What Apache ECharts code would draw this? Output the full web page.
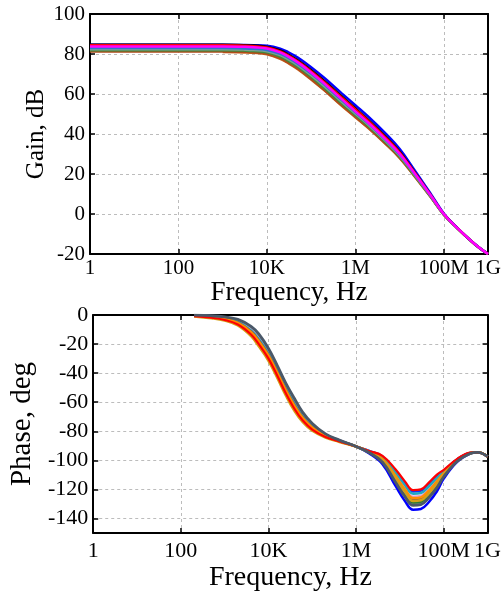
<!DOCTYPE html>
<html>
<head>
<meta charset="utf-8">
<script src="https://cdn.jsdelivr.net/npm/echarts@6/dist/echarts.min.js"></script>
<style>
  html, body { margin: 0; padding: 0; background: #fff; }
  #chart { width: 504px; height: 596px; }
</style>
</head>
<body>
<div id="chart"></div>
<script>
// frequency ticks shared by both plots
const freqTickValues = [1, 100, 1e4, 1e6, 1e8, 1e9];
const freqTickLabels = ['1', '100', '10K', '1M', '100M', '1G'];

// gain plot (dB), one array per Monte Carlo run
const gainFreq = [1, 10, 100, 1e3, 3e3, 5e3, 1e4, 2e4, 3e4, 5e4, 1e5, 2e5, 5e5, 1e6, 2e6, 5e6, 1e7, 2e7, 5e7, 1e8, 2e8, 5e8, 1e9];
const gainBrown = [null, null, null, 81.0, 80.8, 80.6, 79.8, 77.6, 75.5, 72.4, 67.3, 61.8, 54.0, 48.4, 42.8, 34.7, 28.1, 19.9, 8.6, -0.3, -7.0, -15.1, -20];
const gainSienna = [81.3, 81.3, 81.3, 81.3, 81.1, 80.9, 80.1, 77.9, 75.8, 72.7, 67.6, 62.0, 54.3, 48.7, 43.1, 35.0, 28.3, 20.1, 8.7, -0.3, -7.0, -15.1, -20];
const gainGreen = [81.9, 81.9, 81.9, 81.9, 81.7, 81.5, 80.8, 78.7, 76.7, 73.6, 68.6, 63.0, 55.2, 49.5, 43.8, 35.6, 28.8, 20.4, 8.9, -0.2, -7.0, -15.0, -20];
const gainGrayGreen = [82.4, 82.4, 82.4, 82.4, 82.2, 82.0, 81.4, 79.4, 77.4, 74.4, 69.4, 63.9, 56.0, 50.2, 44.5, 36.2, 29.3, 20.8, 9.1, -0.2, -7.0, -15.0, -20];
const gainRoyal = [83.0, 83.0, 83.0, 83.0, 82.8, 82.6, 82.0, 80.1, 78.2, 75.2, 70.2, 64.7, 56.8, 51.0, 45.2, 36.8, 29.8, 21.2, 9.3, -0.1, -6.9, -15.0, -20];
const gainBlue = [84.6, 84.6, 84.6, 84.6, 84.5, 84.4, 84.1, 82.7, 81.0, 78.2, 73.4, 68.0, 60.2, 54.4, 48.5, 39.9, 32.6, 23.2, 10.3, 0.3, -6.8, -15.0, -20];
const gainBlack = [84.8, 84.8, 84.8, 84.8, 84.6, 84.4, 83.7, 81.9, 80.0, 77.0, 72.1, 66.6, 58.9, 53.0, 47.1, 38.6, 31.5, 22.4, 9.9, 0.1, -6.9, -15.0, -20];
const gainRed = [84.4, 84.4, 84.4, 84.4, 84.2, 84.0, 83.3, 81.3, 79.4, 76.4, 71.5, 66.0, 58.2, 52.4, 46.5, 38.0, 30.9, 22.0, 9.7, 0, -6.9, -15.0, -20];
const gainMagenta = [83.8, 83.8, 83.8, 83.8, 83.6, 83.4, 82.8, 80.8, 78.8, 75.8, 70.8, 65.2, 57.3, 51.3, 45.5, 37.1, 30.2, 21.5, 9.5, 0, -6.9, -15.0, -20];

// phase plot (deg)
const phaseFreq = [200, 500, 1e3, 2e3, 4e3, 6e3, 1e4, 1.6e4, 2.5e4, 4e4, 6e4, 1e5, 2e5, 4e5, 1e6, 2e6, 4e6, 8e6, 1.3e7, 2e7, 3e7, 4.5e7, 7e7, 1e8, 2e8, 4e8, 6e8, 1e9];
const phaseBlueDeep = [-0.3, -0.8, -1.8, -3.8, -9.0, -14.5, -24.5, -36.5, -48.5, -59.5, -68.0, -75.5, -82.3, -86.1, -90.5, -95.2, -102.6, -117.8, -128, -134, -133.5, -129, -121.3, -112.6, -101.2, -95.4, -94.5, -97.5];
const phaseBlueShallow = [-0.35, -1.0, -2.05, -4.25, -9.8, -15.5, -25.5, -37.5, -49.5, -60.5, -68.8, -76.1, -82.55, -86.3, -90.5, -93.5, -97.2, -107.2, -115.5, -121.5, -121, -116.5, -110.7, -107.0, -99.3, -94.8, -94.5, -97.5];
const phaseGray = [-0.25, -0.8, -1.75, -3.75, -9, -14.5, -24.5, -36.5, -48.5, -59.5, -68, -75.5, -82.25, -86.1, -90.5, -94.6, -100.8, -114.4, -124, -130, -129.5, -125, -117.9, -110.8, -100.6, -95.2, -94.5, -97.5];
const phaseGreen = [-0.5, -1.3, -2.5, -5.0, -11, -17, -27, -39, -51, -62, -70, -77, -83, -86.5, -90.5, -94.5, -100.4, -113.6, -123, -129, -128.5, -124, -117.1, -110.4, -100.5, -95.2, -94.5, -97.5];
const phasePink = [-0.4, -1.1, -2.2, -4.5, -10.2, -16, -26, -38, -50, -61, -69.2, -76.4, -82.7, -86.4, -90.5, -93.9, -98.6, -110.2, -119, -125, -124.5, -120, -113.7, -108.6, -99.9, -95, -94.5, -97.5];
const phaseCyan = [-0.45, -1.2, -2.35, -4.75, -10.6, -16.5, -26.5, -38.5, -50.5, -61.5, -69.6, -76.7, -82.85, -86.4, -90.5, -93.7, -97.8, -108.5, -117, -123, -122.5, -118, -112, -107.7, -99.6, -94.9, -94.5, -97.5];
const phaseBrown = [-0.55, -1.4, -2.65, -5.25, -11.4, -17.5, -27.5, -39.5, -51.5, -62.5, -70.4, -77.3, -83.15, -86.6, -90.5, -94.2, -99.5, -111.9, -121, -127, -126.5, -122, -115.4, -109.5, -100.2, -95.1, -94.5, -97.5];
const phaseOrange = [-0.6, -1.5, -2.8, -5.5, -11.8, -18, -28, -40, -52, -63, -70.8, -77.6, -83.3, -86.6, -90.5, -94, -99, -111, -120, -126, -125.5, -121, -114.5, -109, -100, -95, -94.5, -97.5];
const phaseOlive = [-0.95, -2.2, -3.85, -7.25, -14.6, -21.5, -31.5, -43.5, -55.5, -66.5, -73.6, -79.7, -84.35, -87.2, -90.5, -94.3, -99.9, -112.7, -122, -128, -127.5, -123, -116.2, -109.9, -100.3, -95.1, -94.5, -97.5];
const phaseRed = [-0.8, -1.9, -3.4, -6.5, -13.4, -20, -30, -42, -54, -65, -72.4, -78.8, -83.9, -86.9, -90.5, -93.6, -96.9, -106.3, -114.5, -120.5, -120, -115.5, -109.8, -106.5, -99.2, -94.7, -94.5, -97.5];
const phaseSlate = [-0.1, -0.5, -1.3, -3.0, -7.8, -13, -23, -35, -47, -58, -66.8, -74.6, -81.8, -85.9, -90.5, -94.8, -101.3, -115.3, -125, -131, -130.5, -126, -118.8, -111.3, -100.8, -95.3, -94.5, -97.5];

const font = 'Liberation Serif';

function freqLabel(value) {
  let best = 0;
  freqTickValues.forEach((v, i) => {
    if (Math.abs(Math.log10(v) - Math.log10(value)) < Math.abs(Math.log10(freqTickValues[best]) - Math.log10(value))) {
      best = i;
    }
  });
  return freqTickLabels[best];
}

function freqAxis(grid, position, labels, nameSize, nameGap, labelSize, labelMargin) {
  return {
    type: 'log',
    logBase: 100,
    min: 1,
    max: 1e9,
    gridIndex: grid,
    position: position,
    name: labels ? 'Frequency, Hz' : '',
    nameLocation: 'middle',
    nameGap: nameGap,
    nameTextStyle: {fontFamily: font, fontSize: nameSize, color: '#000'},
    axisLine: {show: true, onZero: false, lineStyle: {color: '#000', width: 2}},
    axisTick: {show: true, inside: true, length: 5, lineStyle: {color: '#000', width: 1.5}},
    axisLabel: {show: labels, fontFamily: font, fontSize: labelSize, color: '#000', margin: labelMargin, formatter: freqLabel},
    splitLine: {show: labels, lineStyle: {color: '#bcbcbc', type: [3, 3], width: 1}},
    minorTick: {show: false}
  };
}

function levelAxis(grid, position, labels, extra) {
  return Object.assign({
    type: 'value',
    gridIndex: grid,
    position: position,
    nameLocation: 'middle',
    nameRotate: 90,
    axisLine: {show: true, onZero: false, lineStyle: {color: '#000', width: 2}},
    axisTick: {show: true, inside: true, length: 5, lineStyle: {color: '#000', width: 1.5}},
    splitLine: {show: labels, lineStyle: {color: '#bcbcbc', type: [3, 3], width: 1}}
  }, extra);
}

function curve(xi, yi, freq, values, color, width) {
  return {
    type: 'line',
    xAxisIndex: xi,
    yAxisIndex: yi,
    data: freq.map((f, i) => [f, values[i]]),
    showSymbol: false,
    smooth: 0.4,
    silent: true,
    lineStyle: {color: color, width: width},
    itemStyle: {color: color}
  };
}

const chart = echarts.init(document.getElementById('chart'));

chart.setOption({
  animation: false,
  backgroundColor: '#fff',
  grid: [
    {left: 90, top: 14, right: 16, height: 240},
    {left: 93, top: 315, right: 14, height: 218}
  ],
  xAxis: [
    freqAxis(0, 'bottom', true, 27, 24, 21, 4),
    freqAxis(0, 'top', false, 27, 24, 21, 4),
    freqAxis(1, 'bottom', true, 28, 31, 22, 7),
    freqAxis(1, 'top', false, 28, 31, 22, 7)
  ],
  yAxis: [
    levelAxis(0, 'left', true, {
      min: -20, max: 100, interval: 20,
      name: 'Gain, dB', nameGap: 41, nameMoveOverlap: false,
      nameTextStyle: {fontFamily: font, fontSize: 25, color: '#000'},
      axisLabel: {fontFamily: font, fontSize: 21, color: '#000', margin: 5}
    }),
    levelAxis(0, 'right', false, {
      min: -20, max: 100, interval: 20,
      axisLabel: {show: false}
    }),
    levelAxis(1, 'left', true, {
      min: -150, max: 0, minInterval: 20, maxInterval: 20,
      name: 'Phase, deg', nameGap: 54,
      nameTextStyle: {fontFamily: font, fontSize: 29, color: '#000'},
      axisLabel: {fontFamily: font, fontSize: 22, color: '#000', margin: 5, showMinLabel: false}
    }),
    levelAxis(1, 'right', false, {
      min: -150, max: 0, minInterval: 20, maxInterval: 20,
      axisLabel: {show: false}
    })
  ],
  series: [
    curve(0, 0, gainFreq, gainBrown, '#c8641e', 2.5),
    curve(0, 0, gainFreq, gainSienna, '#b04a1a', 2.5),
    curve(0, 0, gainFreq, gainGreen, '#3c8c3c', 2.5),
    curve(0, 0, gainFreq, gainGrayGreen, '#7f9f8f', 2.5),
    curve(0, 0, gainFreq, gainRoyal, '#3070d0', 2.5),
    curve(0, 0, gainFreq, gainBlue, '#0000ff', 2.5),
    curve(0, 0, gainFreq, gainBlack, '#000000', 1.8),
    curve(0, 0, gainFreq, gainRed, '#ff0000', 2.2),
    curve(0, 0, gainFreq, gainMagenta, '#ff00ff', 2.5),

    curve(2, 2, phaseFreq, phaseBlueDeep, '#0000ff', 2.5),
    curve(2, 2, phaseFreq, phaseBlueShallow, '#1030ff', 2.2),
    curve(2, 2, phaseFreq, phaseGray, '#8a8a8a', 2.5),
    curve(2, 2, phaseFreq, phaseGreen, '#2e7d32', 2.5),
    curve(2, 2, phaseFreq, phasePink, '#e0a0d0', 2.5),
    curve(2, 2, phaseFreq, phaseCyan, '#20a8c0', 2.5),
    curve(2, 2, phaseFreq, phaseBrown, '#8c564b', 2.5),
    curve(2, 2, phaseFreq, phaseOrange, '#ff8c00', 2.5),
    curve(2, 2, phaseFreq, phaseOlive, '#d4a017', 2.5),
    curve(2, 2, phaseFreq, phaseRed, '#ff0000', 2.2),
    curve(2, 2, phaseFreq, phaseSlate, '#4a5868', 2.8)
  ]
});
</script>
</body>
</html>
